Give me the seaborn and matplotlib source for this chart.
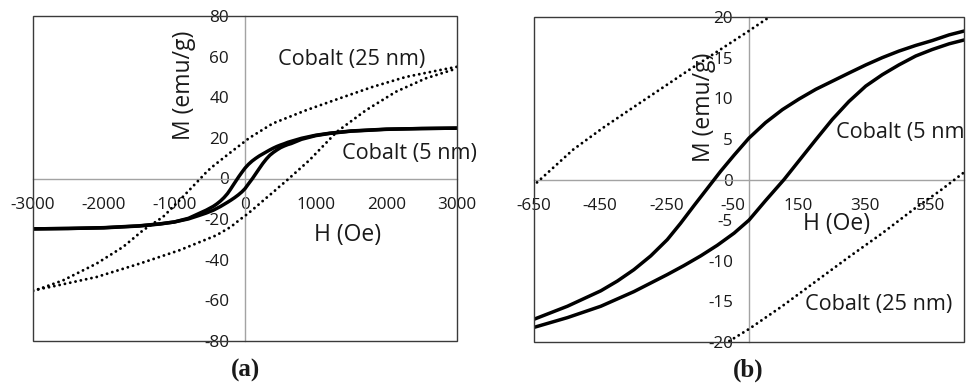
import matplotlib
matplotlib.use("Agg")
import matplotlib.pyplot as plt
import seaborn as sns
from matplotlib.patches import Rectangle

# ---------------- data ----------------
# Cobalt (5 nm): descending-field (upper) branch
H5_up = [-3000, -2500, -2000, -1500, -1200, -1000, -800, -650, -549, -448, -398, -348,
         -297, -247, -207, -166, -126, -86, -45, 0, 50, 101, 151, 202, 252, 302, 353,
         403, 453, 504, 554, 605, 653, 800, 1000, 1200, 1500, 2000, 2500, 3000]
M5_up = [-24.8, -24.6, -24.2, -23.3, -22.3, -21.4, -19.6, -17.2, -15.6, -13.7, -12.5, -11.1,
         -9.4, -7.4, -5.4, -3.2, -1.1, 1.0, 3.0, 5.1, 7.0, 8.6, 9.9, 11.1, 12.1, 13.1, 14.1,
         15.0, 15.8, 16.5, 17.1, 17.8, 18.3, 19.8, 21.3, 22.3, 23.4, 24.3, 24.6, 24.8]
# Cobalt (5 nm): ascending-field (lower) branch
H5_lo = [-3000, -2500, -2000, -1500, -1200, -1000, -800, -650, -549, -448, -348, -247,
         -197, -146, -96, -45, 0, 50, 106, 151, 202, 252, 302, 353, 403, 453, 504, 554,
         605, 653, 800, 1000, 1200, 1500, 2000, 2500, 3000]
M5_lo = [-24.8, -24.6, -24.3, -23.4, -22.4, -21.4, -19.9, -18.2, -17.0, -15.6, -13.8, -11.7,
         -10.6, -9.4, -8.1, -6.6, -5.0, -2.6, 0.0, 2.3, 4.9, 7.4, 9.6, 11.5, 12.9, 14.1, 15.2, 16.0,
         16.7, 17.2, 19.3, 21.1, 22.2, 23.3, 24.2, 24.6, 24.8]
# Cobalt (25 nm): upper branch
H25_up = [-3000, -2572, -2101, -1726, -1443, -1160, -925, -642, -531, -440, -360, -188,
          0, 58, 393, 864, 1334, 1805, 2276, 2746, 3000]
M25_up = [-55.5, -50.1, -41.9, -33.7, -25.5, -18.9, -10.7, -0.4, 3.7, 6.4, 8.6, 13.3,
          18.3, 19.9, 27.1, 33.6, 39.4, 45.1, 50.0, 53.3, 55.0]
# Cobalt (25 nm): lower branch
H25_lo = [-3000, -2754, -2101, -1490, -925, -407, -200, -72, 0, 100, 200, 300, 400, 500,
          577, 622, 911, 1300, 1711, 2135, 2558, 3000]
M25_lo = [-55.0, -53.4, -48.5, -41.9, -35.3, -28.0, -23.8, -20.2, -18.4, -15.6, -12.6, -9.6,
          -6.7, -3.6, -1.4, 0.0, 9.0, 23.0, 33.6, 42.7, 49.3, 54.2]

xticks_a = [-3000, -2000, -1000, 0, 1000, 2000, 3000]
yticks_a = [-80, -60, -40, -20, 0, 20, 40, 60, 80]
xticks_b = [-650, -450, -250, -50, 150, 350, 550]
yticks_b = [-20, -15, -10, -5, 0, 5, 10, 15, 20]

# ---------------- style ----------------
sns.set_style("white")
plt.rcParams["font.family"] = ["Open Sans", "DejaVu Sans"]
plt.rcParams["axes.unicode_minus"] = False

TXT = "#1a1a1a"
AXC = "#a3a3a3"

fig = plt.figure(figsize=(9.66, 3.83), dpi=100)
ax_a = fig.add_axes([33 / 966, 1 - 341 / 383, 424 / 966, 325 / 383])
ax_b = fig.add_axes([534 / 966, 1 - 342 / 383, 430 / 966, 325 / 383])


def draw(ax, xlim, ylim, xticks, yticks, mlab, hlab, notes, clip_notes):
    for H, M in [(H25_up, M25_up), (H25_lo, M25_lo)]:
        n0 = len(ax.lines)
        sns.lineplot(x=H, y=M, ax=ax, color="black", lw=2.1,
                     linestyle=(0, (0.01, 1.85)), zorder=3, estimator=None)
        for ln in ax.lines[n0:]:
            ln.set_dash_capstyle("round")
            ln.set_solid_capstyle("round")
    for H, M in [(H5_up, M5_up), (H5_lo, M5_lo)]:
        n0 = len(ax.lines)
        sns.lineplot(x=H, y=M, ax=ax, color="black", lw=2.5, zorder=3, estimator=None)
        for ln in ax.lines[n0:]:
            ln.set_solid_joinstyle("round")
    ax.set_xlim(*xlim)
    ax.set_ylim(*ylim)
    ax.set_xticks(xticks)
    ax.set_xticklabels([str(v) for v in xticks])
    ax.set_yticks(yticks)
    ax.set_yticklabels([str(v) for v in yticks])
    ax.set_xlabel("")
    ax.set_ylabel("")
    for s in ["top", "right"]:
        ax.spines[s].set_visible(False)
    ax.spines["left"].set_position(("data", 0))
    ax.spines["bottom"].set_position(("data", 0))
    for s in ["left", "bottom"]:
        ax.spines[s].set_color(AXC)
        ax.spines[s].set_linewidth(1.0)
        ax.spines[s].set_zorder(1)
    ax.tick_params(axis="x", direction="out", length=3.2, width=1.0, color=AXC,
                   pad=10, labelsize=12.3, labelcolor=TXT)
    ax.tick_params(axis="y", direction="out", length=3.6, width=1.0, color=AXC,
                   pad=8, labelsize=12.3, labelcolor=TXT)
    ax.add_patch(Rectangle((0, 0), 1, 1, transform=ax.transAxes, fill=False,
                           ec="#3a3a3a", lw=1.0, zorder=5, clip_on=False))
    ax.text(mlab[0], mlab[1], "M (emu/g)", transform=ax.transAxes, rotation=90,
            ha="center", va="center", fontsize=16.5, color=TXT, zorder=4)
    ax.text(hlab[0], hlab[1], "H (Oe)", transform=ax.transAxes,
            ha="center", va="center", fontsize=16.5, color=TXT, zorder=4)
    for (x, y, t) in notes:
        ax.text(x, y, t, ha="left", va="center", fontsize=15.6, color=TXT,
                zorder=4, clip_on=clip_notes)


draw(ax_a, (-3000, 3000), (-80, 80), xticks_a, yticks_a,
     (0.356, 0.788), (0.743, 0.326),
     [(473, 58.5, "Cobalt (25 nm)"), (1376, 12.3, "Cobalt (5 nm)")], False)
draw(ax_b, (-650, 650), (-20, 20), xticks_b, yticks_b,
     (0.395, 0.722), (0.704, 0.363),
     [(263, 5.8, "Cobalt (5 nm)"), (169, -15.4, "Cobalt (25 nm)")], True)

fig.text(245 / 966, 1 - 370 / 383, "(a)", ha="center", va="center",
         family=["Liberation Serif", "DejaVu Serif"], weight="bold", fontsize=18, color=TXT)
fig.text(748 / 966, 1 - 370 / 383, "(b)", ha="center", va="center",
         family=["Liberation Serif", "DejaVu Serif"], weight="bold", fontsize=18, color=TXT)

fig.savefig("out.png", dpi=100, facecolor="white")
